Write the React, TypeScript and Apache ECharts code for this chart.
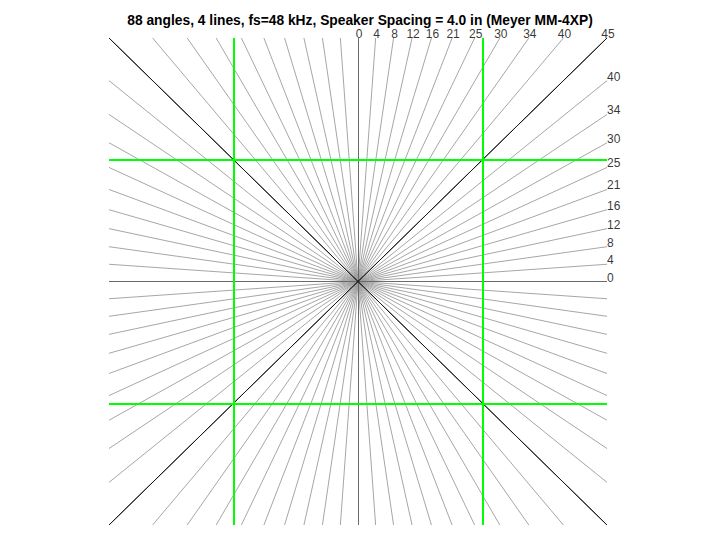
import React, { useEffect, useRef } from "react";
import * as echarts from "echarts";

// Steering angles (degrees) within one octant
const octantAngles = [0, 4.05, 8.13, 12.25, 16.43, 20.7, 25.1, 29.67, 34.45, 39.52, 45];
// Labels shown along the top edge (angle from vertical) and right edge (angle from horizontal)
const topLabels = ["0", "4", "8", "12", "16", "21", "25", "30", "34", "40", "45"];
const rightLabels = ["0", "4", "8", "12", "16", "21", "25", "30", "34", "40"];
// Green speaker lines (positions in normalised plot units)
const greenVertical = [-0.5, 0.5];
const greenHorizontal = [-0.5, 0.5];

const titleText = "88 angles, 4 lines, fs=48 kHz, Speaker Spacing = 4.0 in (Meyer MM-4XP)";

export default function App() {
  const ref = useRef<HTMLDivElement>(null);

  useEffect(() => {
    if (!ref.current) return;
    const chart = echarts.init(ref.current, undefined, { renderer: "svg" });

    const regular: any[] = [];
    const axes: any[] = [];
    const diagonals: any[] = [];
    const signs = [1, -1];
    for (const sx of signs) {
      for (const sy of signs) {
        octantAngles.forEach((a) => {
          const t = Math.tan((a * Math.PI) / 180);
          const ends = [
            [sx * 1, sy * t],
            [sx * t, sy * 1],
          ];
          for (const e of ends) {
            const item = { coords: [[0, 0], e] };
            if (a === 0) axes.push(item);
            else if (a === 45) diagonals.push(item);
            else regular.push(item);
          }
        });
      }
    }

    const green: any[] = [];
    greenVertical.forEach((x) => green.push({ coords: [[x, -1], [x, 1]] }));
    greenHorizontal.forEach((y) => green.push({ coords: [[-1, y], [1, y]] }));

    const topPts = octantAngles.map((a, i) => ({
      value: [Math.tan((a * Math.PI) / 180), 1],
      name: topLabels[i],
    }));
    const rightPts = rightLabels.map((lab, i) => ({
      value: [1, Math.tan((octantAngles[i] * Math.PI) / 180)],
      name: lab,
    }));

    const lineSeries = (data: any[], color: string, width: number, z: number) => ({
      type: "lines",
      coordinateSystem: "cartesian2d",
      data,
      silent: true,
      z,
      lineStyle: { color, width, opacity: 1 },
    });

    chart.setOption({
      animation: false,
      backgroundColor: "#ffffff",
      title: {
        text: titleText,
        left: "center",
        top: 8,
        textStyle: {
          fontFamily: "Liberation Sans",
          fontSize: 13.8,
          fontWeight: "bold",
          color: "#000",
        },
      },
      grid: { left: 109, right: 113, top: 38, bottom: 15 },
      xAxis: {
        type: "value",
        min: -1,
        max: 1,
        show: false,
      },
      yAxis: {
        type: "value",
        min: -1,
        max: 1,
        show: false,
      },
      series: [
        lineSeries(regular, "#9c9c9c", 0.9, 2),
        lineSeries(axes, "#6a6a6a", 1, 3),
        lineSeries(diagonals, "#1a1a1a", 1, 3),
        lineSeries(green, "#00ff00", 2, 4),
        {
          type: "scatter",
          data: topPts,
          symbolSize: 0,
          silent: true,
          z: 5,
          label: {
            show: true,
            formatter: (p: any) => p.name,
            position: [0, 0],
            align: "center",
            verticalAlign: "bottom",
            offset: [1, 2],
            fontFamily: "Liberation Sans",
            fontSize: 12,
            color: "#000",
          },
        },
        {
          type: "scatter",
          data: rightPts,
          symbolSize: 0,
          silent: true,
          z: 5,
          label: {
            show: true,
            formatter: (p: any) => p.name,
            position: [0, 0],
            align: "left",
            verticalAlign: "bottom",
            offset: [0, 2],
            fontFamily: "Liberation Sans",
            fontSize: 12,
            color: "#000",
          },
        },
      ],
    });

    return () => chart.dispose();
  }, []);

  return <div ref={ref} style={{ width: 720, height: 540, margin: -8 }} />;
}
